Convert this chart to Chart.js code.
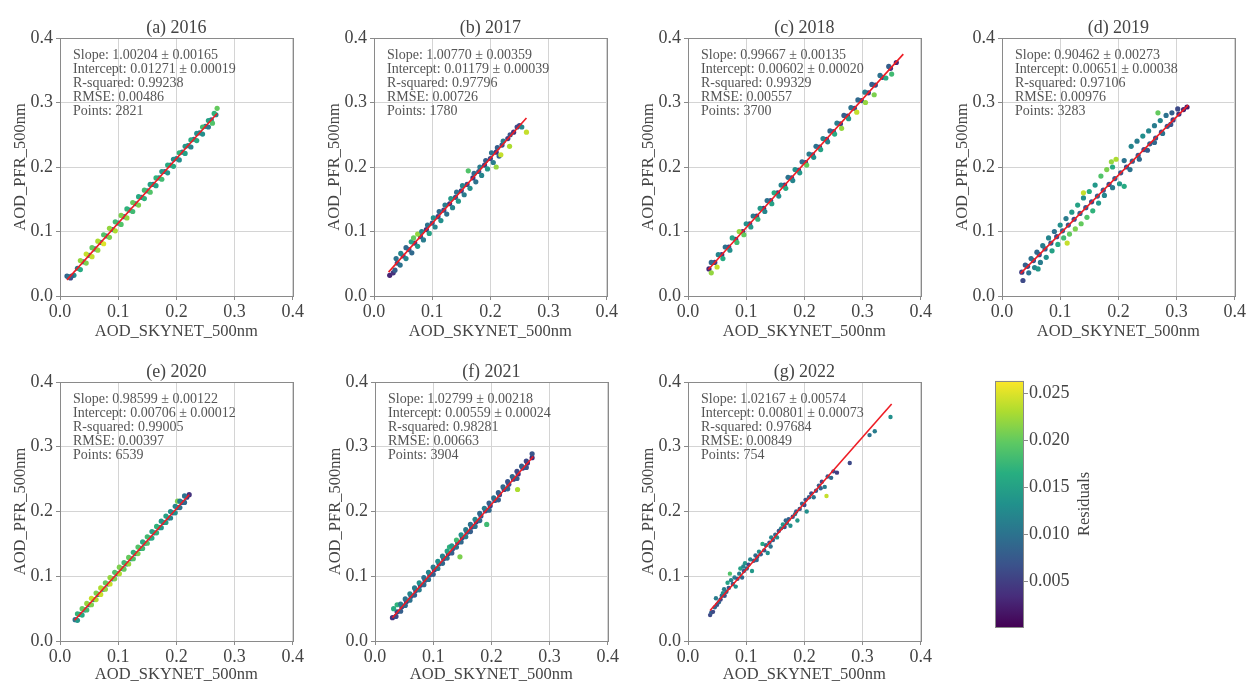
<!DOCTYPE html>
<html>
<head>
<meta charset="utf-8">
<script src="https://cdn.jsdelivr.net/npm/chart.js@4.4.1/dist/chart.umd.min.js"></script>
<style>
  html, body { margin: 0; padding: 0; background: #fff; overflow: hidden; width: 1247px; height: 681px; }
  canvas { position: absolute; }
</style>
</head>
<body>
<script>
// tick values shared by all panels and the colour bar
var axisTicks = [0, 0.1, 0.2, 0.3, 0.4];
var cbarTicks = [0.005, 0.010, 0.015, 0.020, 0.025];
var cbarMin = 0.00016, cbarMax = 0.0263;

// points: [AOD_SKYNET, AOD_PFR, residual]
var pts2016 = [
  [0.012,0.031,0.008],[0.018,0.028,0.006],[0.024,0.032,0.013],[0.014,0.030,0.010],[0.020,0.031,0.008],
  [0.030,0.043,0.011],[0.040,0.053,0.009],[0.050,0.063,0.012],[0.060,0.073,0.010],[0.070,0.083,0.013],
  [0.080,0.093,0.009],[0.090,0.103,0.011],[0.100,0.113,0.012],[0.110,0.123,0.010],[0.120,0.133,0.013],
  [0.130,0.143,0.009],[0.140,0.153,0.011],[0.150,0.163,0.012],[0.160,0.173,0.010],[0.170,0.183,0.013],
  [0.180,0.193,0.009],[0.190,0.203,0.011],[0.200,0.213,0.012],[0.210,0.223,0.010],[0.220,0.233,0.013],
  [0.230,0.243,0.009],[0.240,0.253,0.011],[0.250,0.263,0.012],[0.260,0.273,0.010],[0.268,0.281,0.012],
  [0.035,0.055,0.022],[0.045,0.065,0.024],[0.055,0.075,0.020],[0.065,0.085,0.023],[0.075,0.095,0.019],
  [0.085,0.105,0.022],[0.095,0.115,0.018],[0.105,0.125,0.021],[0.115,0.135,0.017],[0.125,0.145,0.020],
  [0.135,0.154,0.016],[0.145,0.164,0.018],[0.155,0.173,0.015],[0.165,0.183,0.017],[0.175,0.193,0.014],
  [0.185,0.203,0.016],[0.195,0.212,0.013],[0.205,0.222,0.017],[0.215,0.232,0.014],[0.225,0.242,0.016],
  [0.235,0.252,0.013],[0.245,0.262,0.018],[0.255,0.272,0.015],[0.265,0.283,0.017],[0.270,0.291,0.020],
  [0.035,0.041,0.016],[0.045,0.051,0.021],[0.055,0.061,0.024],[0.065,0.071,0.022],[0.075,0.081,0.025],
  [0.085,0.091,0.021],[0.095,0.101,0.023],[0.105,0.111,0.019],[0.115,0.121,0.022],[0.125,0.131,0.018],
  [0.135,0.141,0.021],[0.145,0.151,0.017],[0.155,0.161,0.019],[0.165,0.171,0.015],[0.175,0.181,0.018],
  [0.185,0.191,0.014],[0.195,0.201,0.016],[0.205,0.211,0.013],[0.215,0.221,0.015],[0.225,0.231,0.012],
  [0.235,0.241,0.016],[0.245,0.251,0.013],[0.255,0.262,0.011],[0.262,0.268,0.019]];
var pts2017 = [
  [0.027,0.032,0.003],[0.033,0.036,0.004],[0.040,0.051,0.006],[0.050,0.062,0.005],[0.060,0.072,0.007],
  [0.070,0.082,0.005],[0.080,0.092,0.006],[0.090,0.103,0.004],[0.100,0.113,0.007],[0.110,0.123,0.005],
  [0.120,0.133,0.006],[0.130,0.143,0.004],[0.140,0.153,0.007],[0.150,0.163,0.005],[0.160,0.173,0.006],
  [0.170,0.183,0.004],[0.180,0.193,0.007],[0.190,0.203,0.005],[0.200,0.213,0.006],[0.210,0.223,0.004],
  [0.220,0.234,0.006],[0.230,0.244,0.005],[0.240,0.254,0.004],[0.250,0.264,0.006],
  [0.038,0.058,0.010],[0.046,0.066,0.012],[0.055,0.075,0.009],[0.064,0.084,0.015],[0.068,0.090,0.020],
  [0.075,0.096,0.022],[0.082,0.100,0.012],[0.092,0.110,0.010],[0.102,0.121,0.013],[0.112,0.131,0.009],
  [0.122,0.141,0.011],[0.132,0.151,0.014],[0.142,0.161,0.010],[0.152,0.171,0.012],[0.162,0.194,0.019],
  [0.172,0.190,0.009],[0.182,0.200,0.011],[0.192,0.210,0.008],[0.202,0.222,0.010],[0.212,0.230,0.008],
  [0.222,0.240,0.011],[0.234,0.250,0.007],[0.246,0.262,0.006],
  [0.036,0.040,0.008],[0.045,0.048,0.010],[0.055,0.058,0.012],[0.065,0.067,0.009],[0.075,0.077,0.014],
  [0.085,0.087,0.011],[0.095,0.097,0.015],[0.105,0.107,0.012],[0.115,0.117,0.013],[0.125,0.127,0.010],
  [0.135,0.137,0.012],[0.145,0.147,0.014],[0.155,0.157,0.011],[0.165,0.167,0.013],[0.175,0.177,0.010],
  [0.185,0.187,0.012],[0.195,0.197,0.014],[0.205,0.207,0.011],[0.215,0.217,0.009],
  [0.210,0.200,0.022],[0.218,0.219,0.024],[0.233,0.232,0.023],[0.262,0.254,0.024],[0.254,0.262,0.012]];
var pts2018 = [
  [0.036,0.042,0.003],[0.046,0.052,0.005],[0.058,0.064,0.004],[0.070,0.076,0.006],[0.082,0.088,0.005],
  [0.094,0.100,0.004],[0.106,0.112,0.006],[0.118,0.124,0.005],[0.130,0.136,0.004],[0.142,0.148,0.006],
  [0.154,0.160,0.005],[0.166,0.172,0.004],[0.178,0.183,0.006],[0.190,0.195,0.005],[0.202,0.207,0.004],
  [0.214,0.219,0.006],[0.226,0.231,0.005],[0.238,0.243,0.004],[0.250,0.255,0.006],[0.262,0.267,0.005],
  [0.274,0.279,0.004],[0.286,0.291,0.006],[0.298,0.303,0.005],[0.310,0.315,0.004],[0.322,0.327,0.006],
  [0.334,0.339,0.005],[0.348,0.353,0.004],[0.358,0.362,0.003],
  [0.040,0.052,0.009],[0.052,0.064,0.012],[0.064,0.076,0.010],[0.076,0.090,0.015],[0.088,0.100,0.022],
  [0.100,0.112,0.013],[0.112,0.124,0.011],[0.124,0.136,0.014],[0.136,0.148,0.010],[0.148,0.160,0.016],
  [0.160,0.172,0.012],[0.172,0.184,0.010],[0.184,0.196,0.013],[0.196,0.208,0.009],[0.208,0.220,0.011],
  [0.220,0.232,0.010],[0.232,0.244,0.012],[0.244,0.256,0.009],[0.256,0.268,0.011],[0.268,0.280,0.008],
  [0.280,0.292,0.010],[0.292,0.304,0.009],[0.304,0.316,0.011],[0.316,0.328,0.008],[0.330,0.342,0.010],
  [0.345,0.356,0.008],
  [0.040,0.036,0.022],[0.050,0.045,0.024],[0.060,0.058,0.016],[0.072,0.071,0.013],[0.084,0.083,0.018],
  [0.096,0.095,0.020],[0.108,0.107,0.014],[0.120,0.119,0.017],[0.132,0.131,0.012],[0.144,0.143,0.015],
  [0.156,0.155,0.013],[0.168,0.167,0.016],[0.180,0.179,0.012],[0.192,0.191,0.014],[0.204,0.203,0.020],
  [0.216,0.215,0.013],[0.228,0.227,0.015],[0.240,0.239,0.012],[0.252,0.251,0.016],[0.264,0.260,0.022],
  [0.276,0.275,0.014],[0.290,0.285,0.024],[0.305,0.300,0.022],[0.320,0.312,0.021],[0.340,0.338,0.016],
  [0.350,0.344,0.018]];
var pts2019 = [
  [0.034,0.037,0.005],[0.044,0.046,0.006],[0.054,0.055,0.007],[0.064,0.064,0.006],[0.074,0.073,0.008],
  [0.084,0.082,0.007],[0.094,0.092,0.006],[0.104,0.101,0.008],[0.114,0.110,0.007],[0.124,0.119,0.006],
  [0.134,0.128,0.008],[0.144,0.137,0.007],[0.154,0.146,0.006],[0.164,0.155,0.008],[0.174,0.164,0.007],
  [0.184,0.173,0.006],[0.194,0.182,0.008],[0.204,0.191,0.007],[0.214,0.200,0.006],[0.224,0.209,0.008],
  [0.234,0.218,0.007],[0.244,0.227,0.006],[0.254,0.236,0.008],[0.264,0.245,0.007],[0.274,0.254,0.006],
  [0.284,0.263,0.007],[0.294,0.273,0.005],[0.304,0.282,0.004],[0.312,0.289,0.003],[0.318,0.293,0.002],
  [0.040,0.048,0.008],[0.050,0.058,0.010],[0.060,0.068,0.009],[0.070,0.078,0.011],[0.080,0.090,0.012],
  [0.090,0.100,0.010],[0.100,0.110,0.013],[0.110,0.120,0.011],[0.120,0.130,0.014],[0.130,0.141,0.015],
  [0.140,0.152,0.013],[0.140,0.160,0.024],[0.150,0.162,0.016],[0.160,0.172,0.014],[0.170,0.186,0.019],
  [0.180,0.196,0.021],[0.188,0.208,0.022],[0.196,0.212,0.023],[0.190,0.200,0.016],[0.210,0.210,0.010],
  [0.222,0.232,0.012],[0.232,0.240,0.011],[0.242,0.248,0.013],[0.252,0.256,0.012],[0.262,0.264,0.011],
  [0.272,0.272,0.012],[0.268,0.284,0.020],[0.282,0.280,0.010],[0.292,0.284,0.008],[0.302,0.290,0.006],
  [0.036,0.024,0.006],[0.046,0.036,0.010],[0.056,0.044,0.012],[0.062,0.042,0.014],[0.066,0.052,0.011],
  [0.076,0.060,0.013],[0.086,0.070,0.015],[0.096,0.080,0.016],[0.106,0.090,0.018],[0.112,0.082,0.024],
  [0.116,0.096,0.020],[0.126,0.104,0.021],[0.136,0.112,0.020],[0.146,0.122,0.019],[0.156,0.132,0.017],
  [0.166,0.144,0.014],[0.176,0.156,0.012],[0.190,0.168,0.011],[0.202,0.174,0.014],[0.210,0.170,0.016],
  [0.220,0.196,0.010],[0.236,0.212,0.009],[0.250,0.226,0.008],[0.262,0.238,0.009],[0.276,0.252,0.010],
  [0.290,0.266,0.007]];
var pts2020 = [
  [0.026,0.033,0.010],[0.034,0.041,0.011],[0.042,0.048,0.012],[0.050,0.056,0.010],[0.058,0.064,0.013],
  [0.066,0.072,0.011],[0.074,0.080,0.012],[0.082,0.088,0.010],[0.090,0.096,0.013],[0.098,0.104,0.011],
  [0.106,0.112,0.012],[0.114,0.119,0.010],[0.122,0.127,0.013],[0.130,0.135,0.011],[0.138,0.143,0.012],
  [0.146,0.151,0.010],[0.154,0.159,0.011],[0.162,0.167,0.009],[0.170,0.175,0.010],[0.178,0.183,0.008],
  [0.186,0.190,0.009],[0.194,0.198,0.007],[0.202,0.206,0.008],[0.210,0.214,0.006],[0.218,0.222,0.005],
  [0.222,0.226,0.004],
  [0.030,0.042,0.017],[0.038,0.050,0.020],[0.046,0.058,0.022],[0.054,0.066,0.024],[0.062,0.074,0.021],
  [0.070,0.082,0.023],[0.078,0.090,0.020],[0.086,0.098,0.022],[0.094,0.106,0.019],[0.102,0.114,0.021],
  [0.110,0.121,0.018],[0.118,0.129,0.020],[0.126,0.137,0.017],[0.134,0.145,0.019],[0.142,0.153,0.016],
  [0.150,0.161,0.018],[0.158,0.169,0.015],[0.166,0.177,0.017],[0.174,0.185,0.014],[0.182,0.193,0.015],
  [0.190,0.200,0.013],[0.198,0.208,0.012],[0.202,0.216,0.021],[0.206,0.216,0.011],[0.214,0.224,0.010],
  [0.030,0.032,0.014],[0.038,0.040,0.016],[0.046,0.048,0.018],[0.054,0.056,0.021],[0.062,0.064,0.023],
  [0.070,0.072,0.024],[0.078,0.080,0.022],[0.086,0.088,0.024],[0.094,0.096,0.021],[0.102,0.104,0.023],
  [0.110,0.111,0.020],[0.118,0.119,0.022],[0.126,0.127,0.019],[0.134,0.135,0.021],[0.142,0.143,0.018],
  [0.150,0.151,0.019],[0.158,0.159,0.016],[0.166,0.167,0.017],[0.174,0.175,0.014],[0.182,0.183,0.015],
  [0.190,0.190,0.012],[0.198,0.198,0.013],[0.206,0.206,0.010],[0.214,0.214,0.009]];
var pts2021 = [
  [0.030,0.036,0.004],[0.038,0.045,0.005],[0.046,0.053,0.006],[0.054,0.061,0.005],[0.062,0.069,0.007],
  [0.070,0.078,0.006],[0.078,0.086,0.005],[0.086,0.094,0.007],[0.094,0.102,0.006],[0.102,0.110,0.005],
  [0.110,0.119,0.007],[0.118,0.127,0.006],[0.126,0.135,0.005],[0.134,0.143,0.007],[0.142,0.152,0.006],
  [0.150,0.160,0.005],[0.158,0.168,0.007],[0.166,0.176,0.006],[0.174,0.184,0.005],[0.182,0.193,0.007],
  [0.190,0.201,0.006],[0.198,0.209,0.005],[0.206,0.217,0.007],[0.214,0.226,0.006],[0.222,0.234,0.005],
  [0.230,0.242,0.006],[0.238,0.250,0.005],[0.246,0.258,0.004],[0.254,0.267,0.005],[0.262,0.275,0.004],
  [0.270,0.283,0.003],
  [0.032,0.050,0.016],[0.038,0.056,0.017],[0.044,0.057,0.011],[0.052,0.065,0.010],[0.060,0.073,0.012],
  [0.068,0.082,0.011],[0.076,0.090,0.013],[0.084,0.098,0.010],[0.092,0.106,0.012],[0.100,0.114,0.011],
  [0.108,0.123,0.013],[0.116,0.131,0.012],[0.124,0.139,0.015],[0.128,0.145,0.017],[0.132,0.147,0.014],
  [0.140,0.156,0.018],[0.148,0.164,0.013],[0.156,0.172,0.011],[0.164,0.180,0.010],[0.172,0.188,0.012],
  [0.180,0.197,0.009],[0.188,0.205,0.011],[0.196,0.213,0.008],[0.204,0.221,0.010],[0.212,0.229,0.008],
  [0.220,0.238,0.009],[0.228,0.246,0.007],[0.236,0.254,0.009],[0.244,0.262,0.006],[0.252,0.270,0.008],
  [0.260,0.278,0.006],[0.270,0.289,0.007],
  [0.036,0.038,0.006],[0.044,0.046,0.008],[0.052,0.055,0.009],[0.060,0.063,0.010],[0.068,0.071,0.008],
  [0.076,0.079,0.011],[0.084,0.087,0.009],[0.092,0.095,0.010],[0.100,0.103,0.008],[0.108,0.112,0.011],
  [0.116,0.120,0.009],[0.124,0.128,0.010],[0.132,0.136,0.008],[0.146,0.130,0.021],[0.140,0.145,0.010],
  [0.148,0.153,0.009],[0.156,0.161,0.011],[0.164,0.169,0.008],[0.172,0.177,0.010],[0.180,0.186,0.009],
  [0.192,0.180,0.018],[0.196,0.202,0.009],[0.212,0.218,0.008],[0.228,0.235,0.009],[0.245,0.234,0.023],
  [0.244,0.251,0.008],[0.260,0.268,0.007]];
var pts2022 = [
  [0.038,0.040,0.006],[0.040,0.044,0.008],[0.043,0.045,0.006],[0.046,0.052,0.009],[0.048,0.066,0.011],
  [0.050,0.056,0.007],[0.053,0.060,0.009],[0.056,0.064,0.006],[0.058,0.070,0.010],[0.060,0.074,0.013],
  [0.063,0.070,0.007],[0.066,0.076,0.009],[0.068,0.090,0.015],[0.070,0.082,0.007],[0.072,0.104,0.019],
  [0.074,0.094,0.012],[0.077,0.088,0.008],[0.080,0.098,0.011],[0.082,0.084,0.013],[0.085,0.096,0.007],
  [0.088,0.104,0.011],[0.090,0.112,0.015],[0.093,0.098,0.009],[0.096,0.108,0.007],[0.098,0.120,0.014],
  [0.101,0.112,0.009],[0.104,0.118,0.006],[0.107,0.126,0.012],[0.110,0.108,0.014],[0.113,0.124,0.008],
  [0.116,0.132,0.010],[0.119,0.130,0.007],[0.122,0.138,0.013],[0.125,0.134,0.008],[0.128,0.150,0.016],
  [0.131,0.140,0.007],[0.134,0.148,0.010],[0.137,0.136,0.013],[0.140,0.152,0.007],[0.143,0.160,0.012],
  [0.146,0.156,0.008],[0.150,0.164,0.009],[0.153,0.160,0.013],[0.156,0.170,0.007],[0.160,0.174,0.011],
  [0.163,0.180,0.014],[0.166,0.176,0.007],[0.170,0.182,0.010],[0.173,0.188,0.008],[0.176,0.178,0.013],
  [0.180,0.192,0.007],[0.184,0.196,0.011],[0.188,0.186,0.014],[0.192,0.204,0.007],[0.196,0.212,0.009],
  [0.200,0.210,0.006],[0.204,0.200,0.013],[0.208,0.222,0.008],[0.212,0.228,0.006],[0.216,0.222,0.010],
  [0.220,0.232,0.007],[0.225,0.240,0.008],[0.230,0.246,0.006],[0.235,0.238,0.011],[0.238,0.224,0.024],
  [0.240,0.254,0.007],[0.246,0.252,0.009],[0.250,0.262,0.006],[0.256,0.260,0.005],[0.278,0.275,0.006],
  [0.312,0.318,0.010],[0.321,0.324,0.011],[0.348,0.346,0.013],[0.062,0.080,0.011],[0.095,0.115,0.012],
  [0.118,0.125,0.009],[0.142,0.146,0.010],[0.168,0.186,0.009],[0.186,0.200,0.008],[0.202,0.218,0.007],
  [0.228,0.236,0.008]];

// fitted lines, end points
var fitX2016 = [0.012, 0.270], fitY2016 = [0.025, 0.283];
var fitX2017 = [0.025, 0.262], fitY2017 = [0.037, 0.276];
var fitX2018 = [0.035, 0.370], fitY2018 = [0.041, 0.375];
var fitX2019 = [0.032, 0.320], fitY2019 = [0.035, 0.296];
var fitX2020 = [0.025, 0.222], fitY2020 = [0.032, 0.226];
var fitX2021 = [0.030, 0.272], fitY2021 = [0.036, 0.285];
var fitX2022 = [0.038, 0.350], fitY2022 = [0.047, 0.366];

var stats2016 = ['Slope: 1.00204 \u00b1 0.00165', 'Intercept: 0.01271 \u00b1 0.00019', 'R-squared: 0.99238', 'RMSE: 0.00486', 'Points: 2821'];
var stats2017 = ['Slope: 1.00770 \u00b1 0.00359', 'Intercept: 0.01179 \u00b1 0.00039', 'R-squared: 0.97796', 'RMSE: 0.00726', 'Points: 1780'];
var stats2018 = ['Slope: 0.99667 \u00b1 0.00135', 'Intercept: 0.00602 \u00b1 0.00020', 'R-squared: 0.99329', 'RMSE: 0.00557', 'Points: 3700'];
var stats2019 = ['Slope: 0.90462 \u00b1 0.00273', 'Intercept: 0.00651 \u00b1 0.00038', 'R-squared: 0.97106', 'RMSE: 0.00976', 'Points: 3283'];
var stats2020 = ['Slope: 0.98599 \u00b1 0.00122', 'Intercept: 0.00706 \u00b1 0.00012', 'R-squared: 0.99005', 'RMSE: 0.00397', 'Points: 6539'];
var stats2021 = ['Slope: 1.02799 \u00b1 0.00218', 'Intercept: 0.00559 \u00b1 0.00024', 'R-squared: 0.98281', 'RMSE: 0.00663', 'Points: 3904'];
var stats2022 = ['Slope: 1.02167 \u00b1 0.00574', 'Intercept: 0.00801 \u00b1 0.00073', 'R-squared: 0.97684', 'RMSE: 0.00849', 'Points: 754'];

var panels = [
  { title: '(a) 2016', pts: pts2016, fitX: fitX2016, fitY: fitY2016, stats: stats2016 },
  { title: '(b) 2017', pts: pts2017, fitX: fitX2017, fitY: fitY2017, stats: stats2017 },
  { title: '(c) 2018', pts: pts2018, fitX: fitX2018, fitY: fitY2018, stats: stats2018 },
  { title: '(d) 2019', pts: pts2019, fitX: fitX2019, fitY: fitY2019, stats: stats2019 },
  { title: '(e) 2020', pts: pts2020, fitX: fitX2020, fitY: fitY2020, stats: stats2020 },
  { title: '(f) 2021', pts: pts2021, fitX: fitX2021, fitY: fitY2021, stats: stats2021 },
  { title: '(g) 2022', pts: pts2022, fitX: fitX2022, fitY: fitY2022, stats: stats2022 }
];
// plot-area left, top, height, space under the x axis, x-title baseline offset, marker radius
var boxes = [[60,38,258,48,40,2.6],[374,38,258,48,40,2.6],[688,38,258,48,40,2.6],[1002,38,258,48,40,2.6],
             [60,382,259,40,38,2.6],[375,382,259,40,38,2.6],[688,382,259,40,38,2.2]];

var FONT  = '"Liberation Serif", "Times New Roman", serif';
var TEXT  = '#444';
var STAT  = '#555';
var GRID  = '#d4d4d4';
var SPINE = '#8a8a8a';
var RED   = '#ee1d25';
var PLOT_W = 233;
var VIRIDIS = ['#440154','#472d7b','#3b528b','#2c728e','#21918c','#28ae80','#5ec962','#addc30','#fde725'];

function hexRgb(h) {
    return [parseInt(h.slice(1,3),16), parseInt(h.slice(3,5),16), parseInt(h.slice(5,7),16)];
}
function viridis(v) {
    var t = (v - cbarMin) / (cbarMax - cbarMin);
    t = Math.max(0, Math.min(1, t)) * (VIRIDIS.length - 1);
    var i = Math.min(Math.floor(t), VIRIDIS.length - 2), f = t - i;
    var a = hexRgb(VIRIDIS[i]), b = hexRgb(VIRIDIS[i+1]);
    return 'rgb(' + Math.round(a[0]+(b[0]-a[0])*f) + ',' + Math.round(a[1]+(b[1]-a[1])*f) + ',' + Math.round(a[2]+(b[2]-a[2])*f) + ')';
}

// frame, titles and the fit statistics for one panel
var panelText = {
    id: 'panelText',
    afterDraw: function (chart, args, o) {
        var c = chart.ctx, a = chart.chartArea;
        var cx = (a.left + a.right) / 2;
        c.save();
        c.strokeStyle = SPINE; c.lineWidth = 1;
        c.strokeRect(Math.round(a.left) + 0.5, Math.round(a.top) + 0.5, Math.round(a.width), Math.round(a.height));
        c.fillStyle = TEXT; c.textAlign = 'center'; c.textBaseline = 'alphabetic';
        c.font = '18px ' + FONT;
        c.fillText(o.title, cx, a.top - 5);
        c.font = '16.5px ' + FONT;
        c.fillText('AOD_SKYNET_500nm', cx, a.bottom + o.xTitleGap);
        c.save();
        c.translate(a.left - 35, (a.top + a.bottom) / 2);
        c.rotate(-Math.PI / 2);
        c.fillText('AOD_PFR_500nm', 0, 0);
        c.restore();
        c.font = '14px ' + FONT; c.fillStyle = STAT; c.textAlign = 'left';
        o.stats.forEach(function (s, k) { c.fillText(s, a.left + 13, a.top + 21 + 14 * k); });
        c.restore();
    }
};

function axisCfg(which, size) {
    return {
        type: 'linear', min: 0, max: 0.4,
        afterBuildTicks: function (s) { s.ticks = axisTicks.map(function (v) { return { value: v }; }); },
        afterFit: function (s) { if (which === 'x') s.height = size; else s.width = size; },
        ticks: { font: { family: FONT, size: 18 }, color: TEXT, padding: which === 'x' ? 1 : 3,
                 autoSkip: false, maxRotation: 0, callback: function (v) { return v.toFixed(1); } },
        grid: { color: GRID, lineWidth: 1, tickLength: 4, tickColor: SPINE },
        border: { display: false }
    };
}

function makePanel(p, box) {
    var L = box[0], T = box[1], H = box[2], below = box[3];
    var cv = document.createElement('canvas');
    cv.width = 60 + PLOT_W + 12; cv.height = 36 + H + below;
    cv.style.left = (L - 60) + 'px'; cv.style.top = (T - 36) + 'px';
    document.body.appendChild(cv);
    new Chart(cv, {
        type: 'scatter',
        data: { datasets: [
            { type: 'line', data: p.fitX.map(function (x, k) { return { x: x, y: p.fitY[k] }; }),
              borderColor: RED, borderWidth: 1.6, pointRadius: 0, fill: false, tension: 0 },
            { data: p.pts.map(function (q) { return { x: q[0], y: q[1], res: q[2] }; }),
              pointRadius: box[5], pointBorderWidth: 0,
              pointBackgroundColor: function (c) { return c.raw ? viridis(c.raw.res) : '#000'; } }
        ] },
        options: {
            responsive: false, animation: false,
            layout: { padding: { top: 36, right: 12, left: 0, bottom: 0 } },
            plugins: { legend: { display: false }, tooltip: { enabled: false },
                       panelText: { title: p.title, stats: p.stats, xTitleGap: box[4] } },
            scales: { x: axisCfg('x', below), y: axisCfg('y', 60) }
        },
        plugins: [panelText]
    });
}

var cbarText = {
    id: 'cbarText',
    afterDraw: function (chart) {
        var c = chart.ctx, a = chart.chartArea;
        c.save();
        c.strokeStyle = SPINE; c.lineWidth = 1;
        c.strokeRect(Math.round(a.left) + 0.5, Math.round(a.top) + 0.5, Math.round(a.width) - 1, Math.round(a.height));
        c.translate(a.right + 65, (a.top + a.bottom) / 2);
        c.rotate(-Math.PI / 2);
        c.fillStyle = TEXT; c.font = '16.5px ' + FONT; c.textAlign = 'center'; c.textBaseline = 'alphabetic';
        c.fillText('Residuals', 0, 0);
        c.restore();
    }
};

function makeColorbar() {
    var cv = document.createElement('canvas');
    cv.width = 140; cv.height = 270;
    cv.style.left = '985px'; cv.style.top = '369px';
    document.body.appendChild(cv);
    new Chart(cv, {
        type: 'bar',
        data: { labels: ['Residuals'], datasets: [{
            data: [[cbarMin, cbarMax]], borderWidth: 0, barPercentage: 1, categoryPercentage: 1,
            backgroundColor: function (ctx) {
                var a = ctx.chart.chartArea;
                if (!a) return VIRIDIS[0];
                var g = ctx.chart.ctx.createLinearGradient(0, a.bottom, 0, a.top);
                VIRIDIS.forEach(function (col, k) { g.addColorStop(k / (VIRIDIS.length - 1), col); });
                return g;
            }
        }] },
        options: {
            responsive: false, animation: false,
            layout: { padding: { left: 10, top: 10, bottom: 12, right: 0 } },
            plugins: { legend: { display: false }, tooltip: { enabled: false } },
            scales: {
                x: { display: false },
                y: { position: 'right', min: cbarMin, max: cbarMax,
                     afterBuildTicks: function (s) { s.ticks = cbarTicks.map(function (v) { return { value: v }; }); },
                     afterFit: function (s) { s.width = 101; },
                     ticks: { font: { family: FONT, size: 18 }, color: TEXT, padding: 1,
                              callback: function (v) { return v.toFixed(3); } },
                     grid: { drawOnChartArea: false, tickLength: 4, tickColor: SPINE },
                     border: { display: false } }
            }
        },
        plugins: [cbarText]
    });
}

panels.forEach(function (p, i) { makePanel(p, boxes[i]); });
makeColorbar();
</script>
</body>
</html>
